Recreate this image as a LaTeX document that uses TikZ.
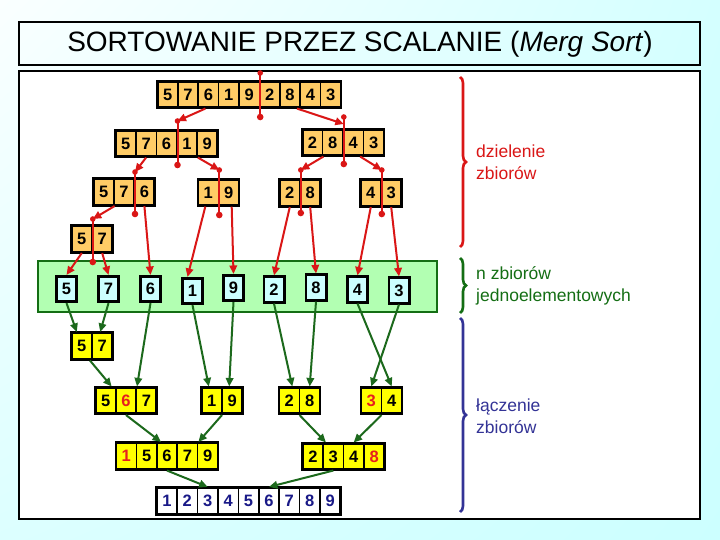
\documentclass[tikz,border=0pt]{standalone}
\usepackage{fontspec}
\setmainfont{Liberation Sans}
\usetikzlibrary{arrows.meta,calc,decorations.pathreplacing,shadings}
\definecolor{redc}{RGB}{218,22,22}
\definecolor{redd}{RGB}{230,30,30}
\definecolor{greenc}{RGB}{28,105,28}
\definecolor{greenb}{RGB}{20,110,20}
\definecolor{bandfill}{RGB}{178,255,178}
\definecolor{bluec}{RGB}{51,51,150}
\definecolor{navyd}{RGB}{25,25,135}
\definecolor{orangef}{RGB}{255,204,102}
\definecolor{yellowf}{RGB}{255,255,0}
\definecolor{leaff}{RGB}{204,255,255}
\definecolor{bgA}{RGB}{250,255,255}
\definecolor{bgB}{RGB}{212,255,255}
\definecolor{bgC}{RGB}{220,255,255}
\definecolor{bgD}{RGB}{204,255,255}
\newcommand\digitfont{\fontsize{16.5}{18}\selectfont\bfseries}
\newcommand\labelfont{\fontsize{17.5}{22}\selectfont}
\newcommand\mkgroup[6]{%
  \foreach \d [count=\i] in {#6} {
    \node[cell, fill=#5] (#1-\i) at ({#2-#4*10.2+(\i-0.5)*20.4},#3) {\d};
  }
  \node[grpbox, minimum width=#4*20.4pt] (#1) at (#2,#3) {};
}
\newcommand\mkcut[4]{%
  \path (#2) ++(0,#3) coordinate (#1-t);
  \path (#2) ++(0,#4) coordinate (#1-b);
}
\tikzset{
  cell/.style={draw=black, line width=1.6pt, minimum width=20.4pt, minimum height=26.5pt, inner sep=0pt, font=\digitfont},
  grpbox/.style={draw=black, line width=2.6pt, inner sep=0pt, minimum height=26.5pt},
  leaf/.style={draw=black, fill=leaff, line width=2.6pt, minimum width=20.4pt, minimum height=25.5pt, inner sep=0pt, font=\digitfont},
  redarr/.style={draw=redc, line width=2pt, -{Triangle[length=8.5pt,width=7.5pt]}},
  greenarr/.style={draw=greenc, line width=2pt, -{Triangle[length=8.5pt,width=7.5pt]}},
  cutline/.style={draw=redc, line width=2pt},
  bracestyle/.style={line width=2.6pt, decorate, decoration={brace, amplitude=6pt}},
}
\begin{document}
\begin{tikzpicture}[x=1pt,y=-1pt]
\useasboundingbox (0,0) rectangle (720,540);
\shade[upper left=bgA, upper right=bgB, lower left=bgC, lower right=bgD] (0,0) rectangle (720,540);
% title and frame
\draw[line width=1.2pt] (19,22) rectangle (700,65);
\node (title) at (360,44) {\fontsize{28}{30}\selectfont SORTOWANIE PRZEZ SCALANIE (\textit{Merg Sort})};
\draw[line width=1.2pt, fill=white] (19,71) rectangle (700,519);
% green band
\node[draw=greenb, fill=bandfill, line width=2.5pt, minimum width=399pt, minimum height=51pt, inner sep=0pt] (band) at (237.5,286.5) {};
% dividing groups
\mkgroup{A}{249.2}{94.5}{9}{orangef}{5,7,6,1,9,2,8,4,3}
\mkgroup{B}{166.5}{143.5}{5}{orangef}{5,7,6,1,9}
\mkgroup{C}{343}{142.5}{4}{orangef}{2,8,4,3}
\mkgroup{D}{124}{192}{3}{orangef}{5,7,6}
\mkgroup{E}{218.5}{192.5}{2}{orangef}{1,9}
\mkgroup{F}{300}{193}{2}{orangef}{2,8}
\mkgroup{G}{381}{193}{2}{orangef}{4,3}
\mkgroup{H}{92}{239}{2}{orangef}{5,7}
% leaves
\node[leaf] (L1) at (66.5,289) {5};
\node[leaf] (L2) at (108.5,289) {7};
\node[leaf] (L3) at (150.5,289) {6};
\node[leaf] (L4) at (192.5,291) {1};
\node[leaf] (L5) at (233.5,288) {9};
\node[leaf] (L6) at (274,289.5) {2};
\node[leaf] (L7) at (316,287.5) {8};
\node[leaf] (L8) at (357.5,289.5) {4};
\node[leaf] (L9) at (399,290.5) {3};
% merging groups
\mkgroup{M1}{92}{346}{2}{yellowf}{5,7}
\mkgroup{M2}{126}{400.5}{3}{yellowf}{5,{\textcolor{redd}{6}},7}
\mkgroup{M3}{222}{400.5}{2}{yellowf}{1,9}
\mkgroup{M4}{299.5}{400.5}{2}{yellowf}{2,8}
\mkgroup{M5}{381.5}{400.5}{2}{yellowf}{{\textcolor{redd}{3}},4}
\mkgroup{M6}{167}{456}{5}{yellowf}{{\textcolor{redd}{1}},5,6,7,9}
\mkgroup{M7}{343.5}{456.5}{4}{yellowf}{2,3,4,{\textcolor{redd}{8}}}
\mkgroup{R}{248.5}{501}{9}{white}{{\textcolor{navyd}{1}},{\textcolor{navyd}{2}},{\textcolor{navyd}{3}},{\textcolor{navyd}{4}},{\textcolor{navyd}{5}},{\textcolor{navyd}{6}},{\textcolor{navyd}{7}},{\textcolor{navyd}{8}},{\textcolor{navyd}{9}}}
% cut lines
\mkcut{cA}{A-5.east}{-21.5}{22.5}
\mkcut{cB}{B-3.east}{-22.5}{21.5}
\mkcut{cC}{C-2.east}{-25.5}{21.5}
\mkcut{cD}{D-2.east}{-20}{22}
\mkcut{cE}{E-1.east}{-22.5}{22.5}
\mkcut{cF}{F-1.east}{-23}{20}
\mkcut{cG}{G-1.east}{-23}{21}
\mkcut{cH}{H-1.east}{-20}{23}
\path (C-2.east) ++(0,-18.5) coordinate (cC-a);
\foreach \c in {cA,cB,cC,cD,cE,cF,cG,cH} {
  \draw[cutline] (\c-t) -- (\c-b);
  \fill[redc] (\c-t) circle (2.8);
  \fill[redc] (\c-b) circle (3.3);
}
% red arrows (division)
\draw[redarr] ([xshift=-3pt]A-3.south) -- (cB-t);
\draw[redarr] ([xshift=7pt]A-7.south) -- (cC-a);
\draw[redarr] (B-2.south) -- (cD-t);
\draw[redarr] (B-4.south east) -- (cE-t);
\draw[redarr] (C-1.south east) -- (cF-t);
\draw[redarr] ([xshift=7pt]C-3.south) -- (cG-t);
\draw[redarr] (D-1.south east) -- (cH-t);
\draw[redarr] (D-3.south) -- (L3.north);
\draw[redarr] (H-1.south) -- (L1.north);
\draw[redarr] (H-2.south) -- (L2.north);
\draw[redarr] ([xshift=-3pt]E-1.south) -- ([xshift=-5pt]L4.north);
\draw[redarr] ([xshift=3pt]E-2.south) -- (L5.north);
\draw[redarr] (F-1.south) -- (L6.north);
\draw[redarr] (F-2.south) -- (L7.north);
\draw[redarr] (G-1.south) -- (L8.north);
\draw[redarr] (G-2.south) -- (L9.north);
% green arrows (merging)
\draw[greenarr] (L1.south) -- ([xshift=-5pt]M1-1.north);
\draw[greenarr] (L2.south) -- ([xshift=-2pt]M1-2.north);
\draw[greenarr] (L3.south) -- (M2-2.north east);
\draw[greenarr] ([xshift=-2pt]M1.south) -- ([xshift=6pt]M2-1.north);
\draw[greenarr] (L4.south) -- ([xshift=-3pt]M3-1.north);
\draw[greenarr] (L5.south) -- ([xshift=-3pt]M3-2.north);
\draw[greenarr] (L6.south) -- ([xshift=3pt]M4-1.north);
\draw[greenarr] (L7.south) -- (M4-2.north);
\draw[greenarr] (L8.south) -- (M5-2.north);
\draw[greenarr] (L9.south) -- (M5-1.north);
\draw[greenarr] (M2.south) -- ([xshift=-6pt]M6-3.north);
\draw[greenarr] (M3.south) -- (M6-4.north east);
\draw[greenarr] (M4.south) -- ([xshift=2pt]M7-1.north east);
\draw[greenarr] (M5.south) -- (M7-3.north);
\draw[greenarr] (M6.south) -- (R-3.north);
\draw[greenarr] (M7-2.south) -- (R-6.north);
% braces and labels
\coordinate (b1t) at (460,77); \coordinate (b1b) at (460,247);
\coordinate (b2t) at (460,258); \coordinate (b2b) at (460,313);
\coordinate (b3t) at (460,318); \coordinate (b3b) at (460,512);
\draw[bracestyle, draw=redc] (b1t) -- (b1b);
\draw[bracestyle, draw=greenb] (b2t) -- (b2b);
\draw[bracestyle, draw=bluec] (b3t) -- (b3b);
\node[anchor=west, align=left, text=redc, font=\labelfont, inner sep=0pt] (t1) at (476,162.5) {dzielenie\\zbiorów};
\node[anchor=west, align=left, text=greenb, font=\labelfont, inner sep=0pt] (t2) at (476,286) {n zbiorów\\jednoelementowych};
\node[anchor=west, align=left, text=bluec, font=\labelfont, inner sep=0pt] (t3) at (476,416) {łączenie\\zbiorów};
\end{tikzpicture}
\end{document}
